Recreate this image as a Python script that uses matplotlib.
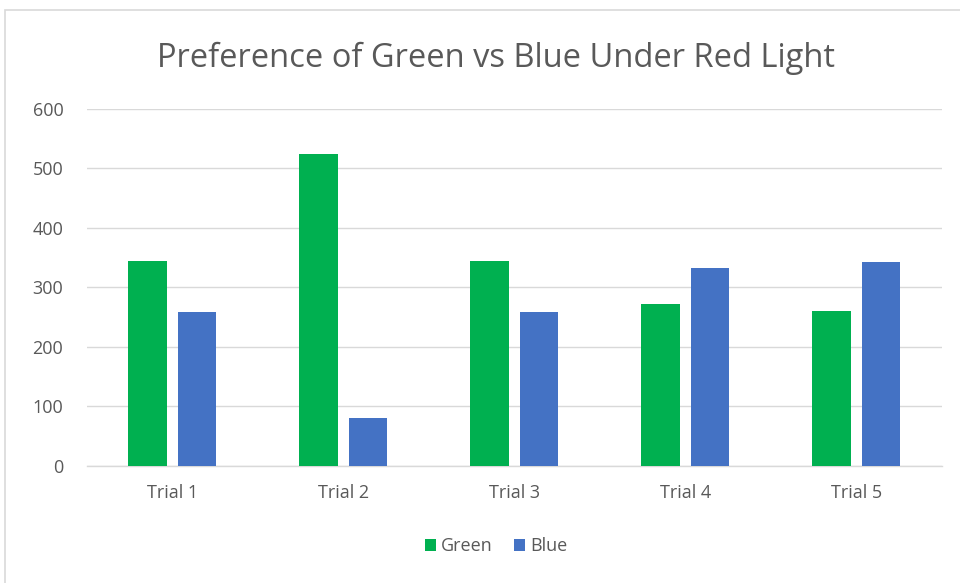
import numpy as np
import matplotlib
matplotlib.use("Agg")
import matplotlib.pyplot as plt
from matplotlib.patches import Rectangle

# data
trials = ['Trial 1', 'Trial 2', 'Trial 3', 'Trial 4', 'Trial 5']
green = [345, 524, 345, 272, 261]
blue = [258, 80, 258, 332, 342]
yticks = [0, 100, 200, 300, 400, 500, 600]

plt.rcParams['font.family'] = ['Open Sans', 'DejaVu Sans']
text_col = '#595959'
grid_col = '#d9d9d9'

fig = plt.figure(figsize=(9.6, 5.83), dpi=100)
ax = fig.add_axes([0.0906, 0.201, 0.8904, 0.612])

x = np.arange(len(trials))
w = 0.225
ax.bar(x - 0.145, green, width=w, color='#00B050', label='Green', zorder=3)
ax.bar(x + 0.145, blue, width=w, color='#4472C4', label='Blue', zorder=3)

ax.set_xlim(-0.5, len(trials) - 0.5)
ax.set_ylim(0, 600)
ax.set_yticks(yticks)
ax.set_xticks(x)
ax.set_xticklabels(trials)
ax.yaxis.grid(True, color=grid_col, lw=1, zorder=0)
for s in ['top', 'right', 'left']:
    ax.spines[s].set_visible(False)
ax.spines['bottom'].set_color(grid_col)
ax.spines['bottom'].set_linewidth(1)
ax.tick_params(axis='both', length=0, labelsize=13, colors=text_col)
ax.tick_params(axis='y', pad=17)
ax.tick_params(axis='x', pad=13)

fig.text(0.517, 0.9, 'Preference of Green vs Blue Under Red Light',
         ha='center', va='center', fontsize=23.5, color=text_col)

fig.legend(loc='center', bbox_to_anchor=(0.517, 0.063), ncol=2, frameon=False,
           fontsize=13, labelcolor=text_col, handlelength=0.6, handleheight=0.6,
           handletextpad=0.3, columnspacing=1.2)

# chart-area border
fig.patches.append(Rectangle((5 / 960, -0.05), 1.0, 1 - 10 / 583 + 0.05,
                             transform=fig.transFigure, fill=False,
                             edgecolor='#d9d9d9', lw=1.2))

fig.savefig('out.png', dpi=100)
